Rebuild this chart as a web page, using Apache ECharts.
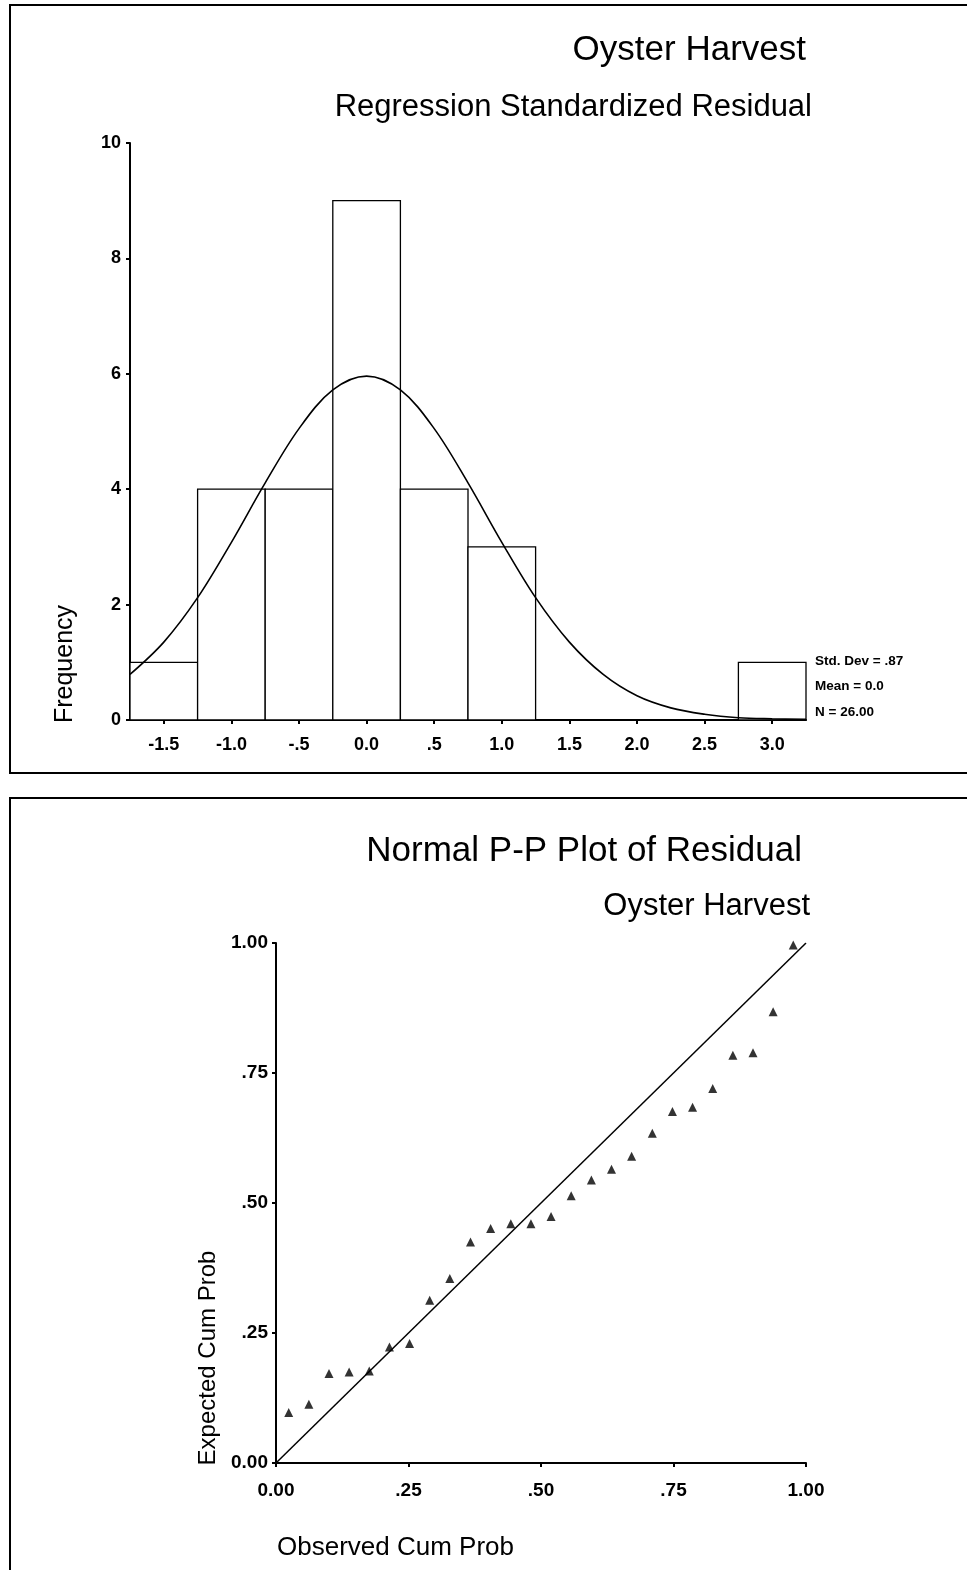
<!DOCTYPE html>
<html><head><meta charset="utf-8">
<script src="https://cdn.jsdelivr.net/npm/echarts@6/dist/echarts.min.js"></script>
<style>html,body{margin:0;padding:0;background:#fff}#c{width:967px;height:1570px}</style>
</head><body><div id="c"></div>
<script>
// ---- Histogram data ----
const binCenters = [-1.5, -1.0, -0.5, 0.0, 0.5, 1.0, 1.5, 2.0, 2.5, 3.0];
const frequencies = [1, 4, 4, 9, 4, 3, 0, 0, 0, 1];
const binWidth = 0.5;
const curveX = [-1.75,-1.5,-1.25,-1.0,-0.75,-0.5,-0.25,0,0.25,0.5,0.75,1.0,1.25,1.5,1.75,2.0,2.25,2.5,2.75,3.0,3.25];
const curveY = [0.79,1.35,2.12,3.08,4.11,5.05,5.72,5.96,5.72,5.05,4.11,3.08,2.12,1.35,0.79,0.42,0.21,0.10,0.04,0.02,0.01];
const histTickValues = [-1.5,-1.0,-0.5,0.0,0.5,1.0,1.5,2.0,2.5,3.0];
const histTickLabels = ['-1.5','-1.0','-.5','0.0','.5','1.0','1.5','2.0','2.5','3.0'];
const statsLines = ['Std. Dev = .87', 'Mean = 0.0', 'N = 26.00'];

// ---- P-P plot data ----
const observedCumProb = [0.024,0.062,0.100,0.138,0.176,0.214,0.252,0.290,0.328,0.367,0.405,0.443,0.481,0.519,0.557,0.595,0.633,0.671,0.710,0.748,0.786,0.824,0.862,0.900,0.938,0.976];
const expectedCumProb = [0.097,0.113,0.172,0.175,0.177,0.223,0.230,0.313,0.355,0.425,0.451,0.460,0.460,0.474,0.514,0.544,0.565,0.590,0.634,0.676,0.684,0.720,0.784,0.789,0.868,0.996];
const refLine = [[0,0],[1,1]];
const ppTickLabels = {0:'0.00', 0.25:'.25', 0.5:'.50', 0.75:'.75', 1:'1.00'};

const FONT = "'Liberation Sans Narrow','Arial Narrow','Liberation Sans',Arial,sans-serif";

const chart = echarts.init(document.getElementById('c'), null, {renderer:'canvas'});

const axisLineStyle = {show:true, onZero:false, lineStyle:{color:'#000', width:2}};
const tickStyle = {show:true, length:4, lineStyle:{color:'#000', width:2}};

chart.setOption({
  backgroundColor:'#fff',
  animation:false,
  grid:[
    {left:130, right:161, top:143, height:577},
    {left:276, right:161, top:943, height:520}
  ],
  xAxis:[
    {gridIndex:0, type:'value', min:-1.75, max:3.25,
     axisLine:axisLineStyle,
     axisTick:Object.assign({customValues:histTickValues}, tickStyle),
     axisLabel:{customValues:histTickValues, margin:16, color:'#000', fontFamily:FONT, fontSize:18, fontWeight:'bold',
       formatter:function(v){ const i = histTickValues.findIndex(t=>Math.abs(t-v)<1e-6); return i>=0?histTickLabels[i]:''; }},
     splitLine:{show:false}},
    {gridIndex:1, type:'value', min:0, max:1, interval:0.25,
     axisLine:axisLineStyle, axisTick:tickStyle,
     axisLabel:{margin:18, color:'#000', fontFamily:FONT, fontSize:19, fontWeight:'bold',
       formatter:function(v){ return ppTickLabels[v]; }},
     splitLine:{show:false}}
  ],
  yAxis:[
    {gridIndex:0, type:'value', min:0, max:10, interval:2,
     axisLine:axisLineStyle, axisTick:tickStyle,
     axisLabel:{margin:9, color:'#000', fontFamily:FONT, fontSize:18, fontWeight:'bold'},
     splitLine:{show:false}},
    {gridIndex:1, type:'value', min:0, max:1, interval:0.25,
     axisLine:axisLineStyle, axisTick:tickStyle,
     axisLabel:{margin:8, color:'#000', fontFamily:FONT, fontSize:19, fontWeight:'bold',
       formatter:function(v){ return ppTickLabels[v]; }},
     splitLine:{show:false}}
  ],
  series:[
    {type:'custom', xAxisIndex:0, yAxisIndex:0, z:2,
     data: binCenters.map((c,i)=>[c, frequencies[i]]),
     encode:{x:0, y:1},
     renderItem:function(params, api){
       const c = api.value(0), v = api.value(1);
       if (!(v > 0)) return null;
       const p0 = api.coord([c - binWidth/2, v]);
       const p1 = api.coord([c + binWidth/2, 0]);
       return {type:'rect', shape:{x:p0[0], y:p0[1], width:p1[0]-p0[0], height:p1[1]-p0[1]},
               style:{fill:'#fff', stroke:'#000', lineWidth:1.3}};
     }},
    {type:'line', xAxisIndex:0, yAxisIndex:0, z:3, smooth:0.35, showSymbol:false, symbol:'none',
     data: curveX.map((x,i)=>[x, curveY[i]]),
     lineStyle:{color:'#000', width:1.6}},
    {type:'line', xAxisIndex:1, yAxisIndex:1, z:2, showSymbol:false, symbol:'none',
     data: refLine, lineStyle:{color:'#000', width:1.5}},
    {type:'scatter', xAxisIndex:1, yAxisIndex:1, z:3, symbol:'triangle', symbolSize:9,
     data: observedCumProb.map((x,i)=>[x, expectedCumProb[i]]),
     itemStyle:{color:'#000'}}
  ],
  graphic:[
    {type:'rect', shape:{x:10, y:5, width:970, height:768}, style:{fill:'none', stroke:'#000', lineWidth:2}, silent:true},
    {type:'rect', shape:{x:10, y:798, width:970, height:800}, style:{fill:'none', stroke:'#000', lineWidth:2}, silent:true},
    {type:'text', x:806, y:50, style:{text:'Oyster Harvest', textAlign:'right', textVerticalAlign:'middle', font:'35px '+FONT, fill:'#000'}},
    {type:'text', x:812, y:107, style:{text:'Regression Standardized Residual', textAlign:'right', textVerticalAlign:'middle', font:'31px '+FONT, fill:'#000'}},
    {type:'text', x:65, y:664, rotation:Math.PI/2, style:{text:'Frequency', textAlign:'center', textVerticalAlign:'middle', font:'25px '+FONT, fill:'#000'}},
    {type:'text', x:815, y:661, style:{text:statsLines[0], textAlign:'left', textVerticalAlign:'middle', font:'bold 13.5px '+FONT, fill:'#000'}},
    {type:'text', x:815, y:686, style:{text:statsLines[1], textAlign:'left', textVerticalAlign:'middle', font:'bold 13.5px '+FONT, fill:'#000'}},
    {type:'text', x:815, y:712, style:{text:statsLines[2], textAlign:'left', textVerticalAlign:'middle', font:'bold 13.5px '+FONT, fill:'#000'}},
    {type:'text', x:802, y:851, style:{text:'Normal P-P Plot of Residual', textAlign:'right', textVerticalAlign:'middle', font:'35px '+FONT, fill:'#000'}},
    {type:'text', x:810, y:906, style:{text:'Oyster Harvest', textAlign:'right', textVerticalAlign:'middle', font:'31px '+FONT, fill:'#000'}},
    {type:'text', x:208, y:1358, rotation:Math.PI/2, style:{text:'Expected Cum Prob', textAlign:'center', textVerticalAlign:'middle', font:'24px '+FONT, fill:'#000'}},
    {type:'text', x:277, y:1548, style:{text:'Observed Cum Prob', textAlign:'left', textVerticalAlign:'middle', font:'26px '+FONT, fill:'#000'}}
  ]
});
</script>
</body></html>
